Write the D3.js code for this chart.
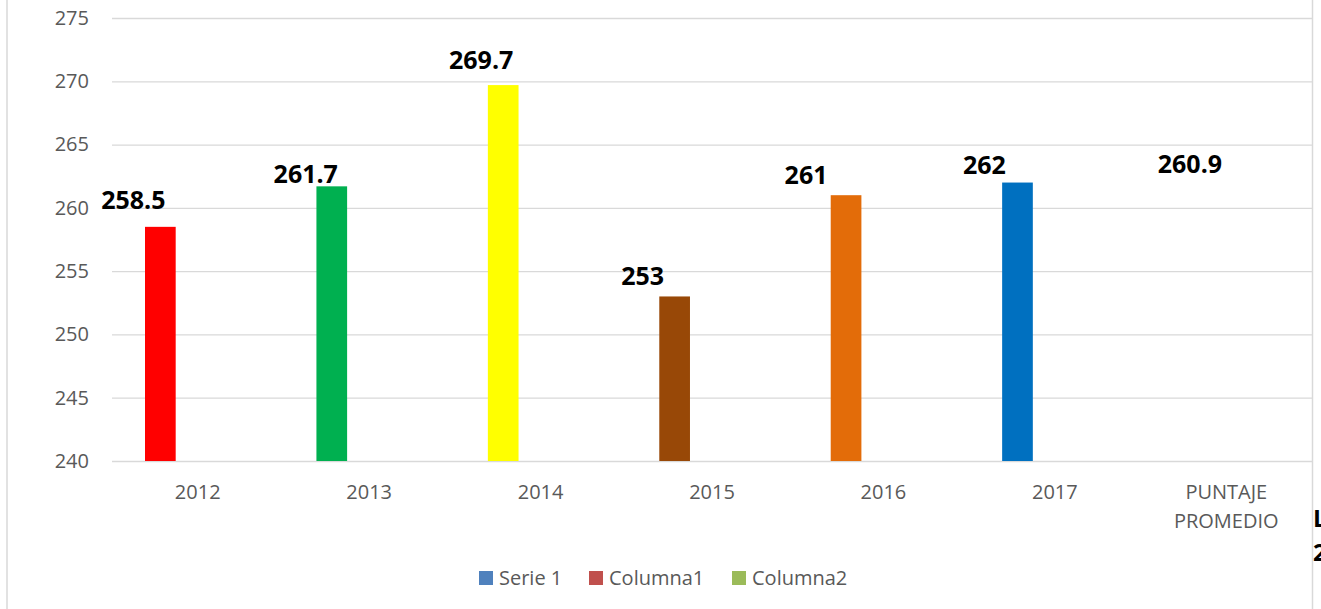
<!DOCTYPE html>
<html>
<head>
    <meta charset="utf-8">
    <title></title>
    <style>
        body { margin: 0; background: #fff; }
        text { font-family: "Open Sans", "Noto Sans", sans-serif; }
    </style>
</head>
<body>
<script src="https://cdnjs.cloudflare.com/ajax/libs/d3/7.8.5/d3.min.js"></script>
<script type="text/javascript">

    // data
    var categories = ['2012', '2013', '2014', '2015', '2016', '2017', 'PUNTAJE PROMEDIO'];
    var values = [258.5, 261.7, 269.7, 253, 261, 262, 260.9];
    var barColors = ['#ff0000', '#00b050', '#ffff00', '#984807', '#e36c09', '#0070c0', 'none'];
    var yTicks = [240, 245, 250, 255, 260, 265, 270, 275];
    var legendNames = ['Serie 1', 'Columna1', 'Columna2'];
    var legendColors = ['#4f81bd', '#c0504d', '#9bbb59'];

    // labels were dragged by hand in the original, so nudge each one
    var labelNudge = [[-27, -18], [-26, -3], [-22, -16], [-32, -11], [-40, -11], [-33, -9], [1, -23]];

    var width = 1321;
    var height = 609;
    var plotLeft = 112, plotRight = 1312, plotTop = 18, plotBottom = 461;

    var svg = d3.select('body')
                .append('svg')
                    .attr('width', width)
                    .attr('height', height);

    // chart frame (only sides are visible in the crop)
    svg.append('line')
        .attr('x1', 7).attr('x2', 7).attr('y1', 0).attr('y2', height)
        .attr('stroke', '#d9d9d9').attr('stroke-width', 1.5);
    svg.append('line')
        .attr('x1', 1312.5).attr('x2', 1312.5).attr('y1', 0).attr('y2', height)
        .attr('stroke', '#d9d9d9').attr('stroke-width', 1.5);

    var x = d3.scaleBand()
                .domain(categories)
                .range([plotLeft, plotRight])
                .padding(0);

    var y = d3.scaleLinear()
                .domain([240, 275])
                .range([plotBottom, plotTop]);

    var yAxis = d3.axisLeft(y)
                    .tickValues(yTicks)
                    .tickSize(-(plotRight - plotLeft))
                    .tickPadding(23);

    var gy = svg.append('g')
                .attr('transform', 'translate(' + plotLeft + ',0)')
                .call(yAxis);
    gy.select('.domain').remove();
    gy.selectAll('.tick line').attr('stroke', '#d9d9d9').attr('stroke-width', 1.3);
    gy.selectAll('.tick text')
        .attr('fill', '#595959')
        .style('font-size', '20px');

    var xAxis = d3.axisBottom(x).tickSize(0).tickPadding(0);
    var gx = svg.append('g')
                .attr('transform', 'translate(0,' + plotBottom + ')')
                .call(xAxis);
    gx.select('.domain').remove();
    gx.selectAll('.tick text')
        .attr('fill', '#595959')
        .style('font-size', '20px')
        .attr('y', 0)
        .attr('dy', null)
        .each(function(d) {
            var t = d3.select(this);
            var words = d.split(' ');
            t.text(null);
            words.forEach(function(w, i) {
                t.append('tspan')
                    .attr('x', 0)
                    .attr('y', 38 + i * 29)
                    .text(w);
            });
        });

    var bw = x.bandwidth();
    var barOffset = bw * 0.1925;
    var barWidth = bw * 0.179;

    svg.selectAll('rect.bar')
        .data(values)
        .enter()
        .append('rect')
            .attr('class', 'bar')
            .attr('x', function(d, i) { return x(categories[i]) + barOffset; })
            .attr('width', barWidth)
            .attr('y', function(d) { return y(d); })
            .attr('height', function(d) { return y(240) - y(d); })
            .attr('fill', function(d, i) { return barColors[i]; });

    svg.selectAll('text.lbl')
        .data(values)
        .enter()
        .append('text')
            .attr('class', 'lbl')
            .attr('text-anchor', 'middle')
            .attr('x', function(d, i) { return x(categories[i]) + barOffset + barWidth / 2 + labelNudge[i][0]; })
            .attr('y', function(d, i) { return y(d) + labelNudge[i][1]; })
            .style('font-size', '25px')
            .style('font-weight', 'bold')
            .attr('fill', '#000')
            .text(function(d) { return d; });

    // legend
    var legendX = [479, 589, 732];
    var legend = svg.selectAll('g.legend')
                    .data(legendNames)
                    .enter()
                    .append('g')
                        .attr('class', 'legend')
                        .attr('transform', function(d, i) { return 'translate(' + legendX[i] + ',571)'; });
    legend.append('rect')
        .attr('width', 14).attr('height', 14)
        .attr('fill', function(d, i) { return legendColors[i]; });
    legend.append('text')
        .attr('x', 20).attr('y', 14)
        .attr('fill', '#595959')
        .style('font-size', '20px')
        .text(function(d) { return d; });

    // clipped text fragment sticking in from the right edge
    svg.append('text')
        .attr('x', 1313).attr('y', 527)
        .style('font-size', '24px').style('font-weight', 'bold')
        .text('L');
    svg.append('text')
        .attr('x', 1313).attr('y', 561)
        .style('font-size', '24px').style('font-weight', 'bold')
        .text('2');

</script>
</body>
</html>
